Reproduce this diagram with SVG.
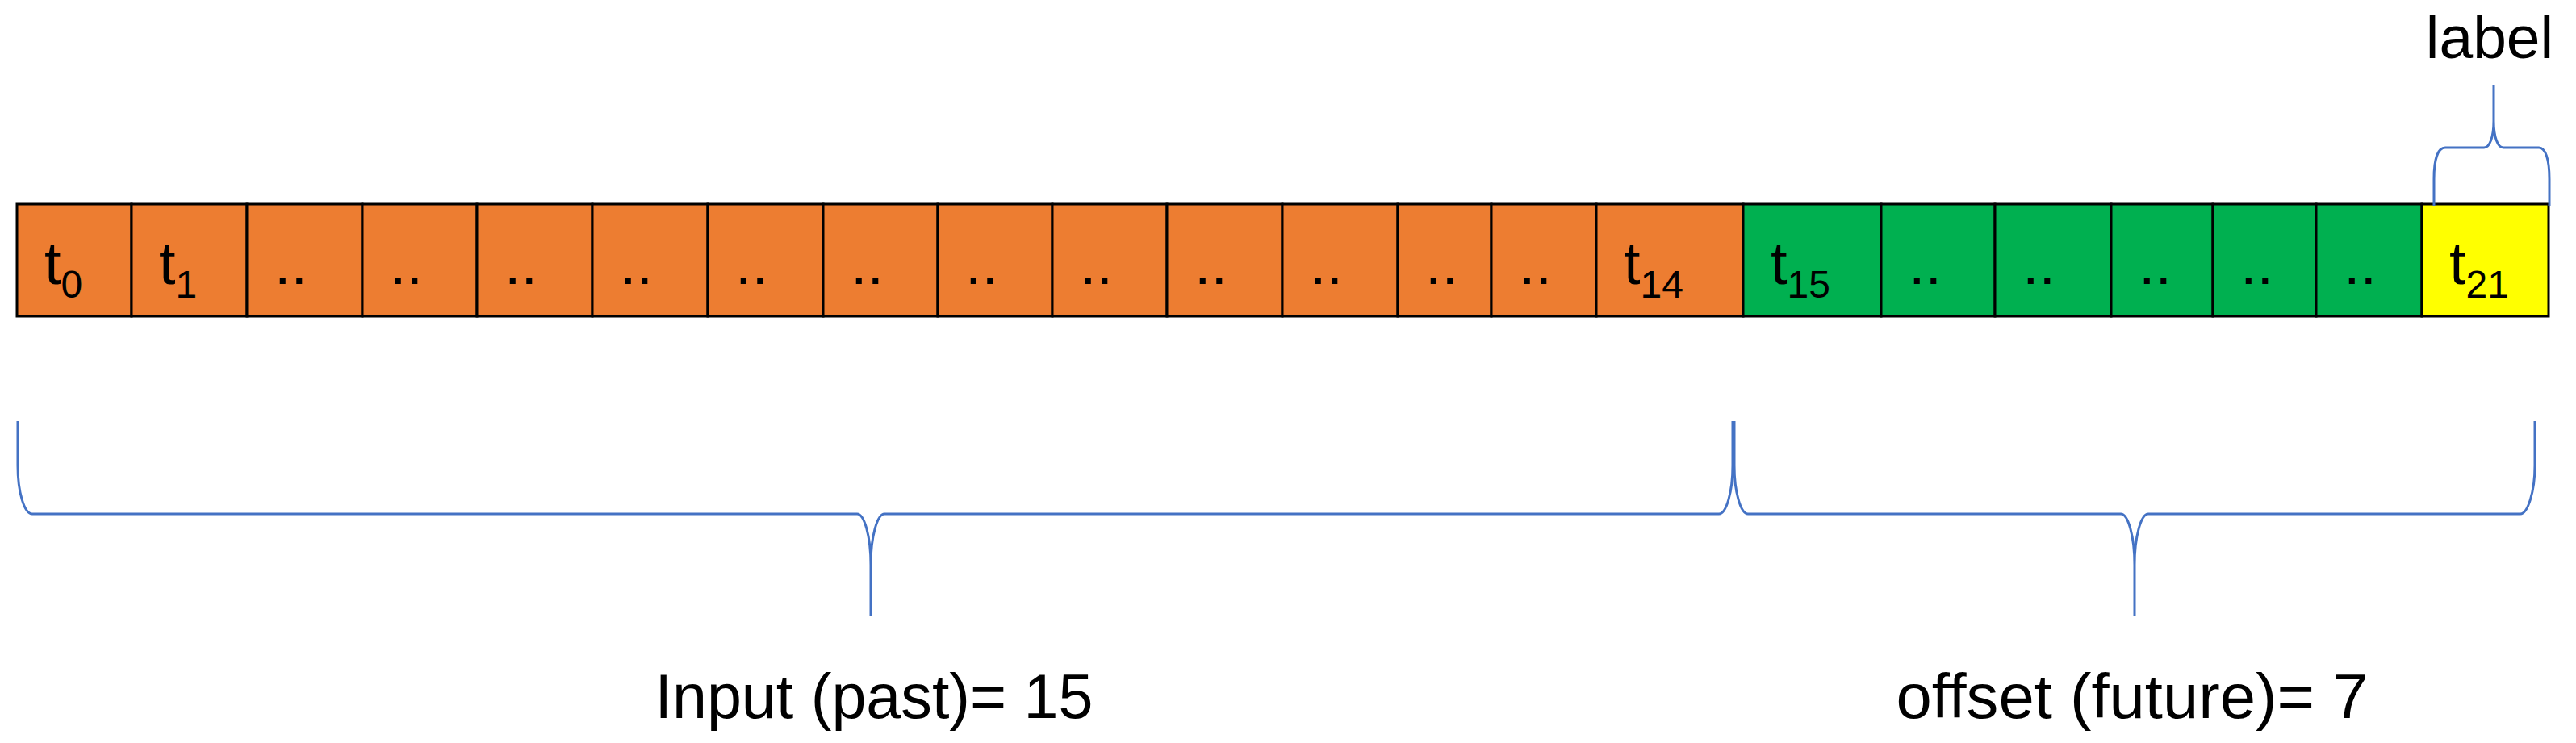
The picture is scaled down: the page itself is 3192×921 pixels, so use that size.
<svg xmlns="http://www.w3.org/2000/svg" width="3192" height="921" viewBox="0 0 3192 921">
<style>
.cell{stroke:#000;stroke-width:3}
.o{fill:#ED7D31}
.g{fill:#00B050}
.y{fill:#FFFF00}
.t{font-family:"Liberation Sans",Arial,sans-serif;font-size:74px;fill:#000}
.s{font-size:48px}
.lbl{font-family:"Liberation Sans",Arial,sans-serif;font-size:77px;fill:#000;text-anchor:middle}
.brace{fill:none;stroke:#4472C4;stroke-width:3;stroke-linejoin:round}
</style>
<rect width="3192" height="921" fill="#fff"/>
<g id="cells">
<g id="c0"><rect class="cell o" x="21" y="253" width="142" height="139"/><text class="t" x="55" y="352">t<tspan class="s" dy="17">0</tspan></text></g>
<g id="c1"><rect class="cell o" x="163" y="253" width="143" height="139"/><text class="t" x="197" y="352">t<tspan class="s" dy="17">1</tspan></text></g>
<g id="c2"><rect class="cell o" x="306" y="253" width="143" height="139"/><text class="t" x="340" y="352">..</text></g>
<g id="c3"><rect class="cell o" x="449" y="253" width="142" height="139"/><text class="t" x="483" y="352">..</text></g>
<g id="c4"><rect class="cell o" x="591" y="253" width="143" height="139"/><text class="t" x="625" y="352">..</text></g>
<g id="c5"><rect class="cell o" x="734" y="253" width="143" height="139"/><text class="t" x="768" y="352">..</text></g>
<g id="c6"><rect class="cell o" x="877" y="253" width="143" height="139"/><text class="t" x="911" y="352">..</text></g>
<g id="c7"><rect class="cell o" x="1020" y="253" width="142" height="139"/><text class="t" x="1054" y="352">..</text></g>
<g id="c8"><rect class="cell o" x="1162" y="253" width="142" height="139"/><text class="t" x="1196" y="352">..</text></g>
<g id="c9"><rect class="cell o" x="1304" y="253" width="142" height="139"/><text class="t" x="1338" y="352">..</text></g>
<g id="c10"><rect class="cell o" x="1446" y="253" width="143" height="139"/><text class="t" x="1480" y="352">..</text></g>
<g id="c11"><rect class="cell o" x="1589" y="253" width="143" height="139"/><text class="t" x="1623" y="352">..</text></g>
<g id="c12"><rect class="cell o" x="1732" y="253" width="116" height="139"/><text class="t" x="1766" y="352">..</text></g>
<g id="c13"><rect class="cell o" x="1848" y="253" width="130" height="139"/><text class="t" x="1882" y="352">..</text></g>
<g id="c14"><rect class="cell o" x="1978" y="253" width="182" height="139"/><text class="t" x="2012" y="352">t<tspan class="s" dy="17">14</tspan></text></g>
<g id="c15"><rect class="cell g" x="2160" y="253" width="171" height="139"/><text class="t" x="2194" y="352">t<tspan class="s" dy="17">15</tspan></text></g>
<g id="c16"><rect class="cell g" x="2331" y="253" width="141" height="139"/><text class="t" x="2365" y="352">..</text></g>
<g id="c17"><rect class="cell g" x="2472" y="253" width="144" height="139"/><text class="t" x="2506" y="352">..</text></g>
<g id="c18"><rect class="cell g" x="2616" y="253" width="126" height="139"/><text class="t" x="2650" y="352">..</text></g>
<g id="c19"><rect class="cell g" x="2742" y="253" width="128" height="139"/><text class="t" x="2776" y="352">..</text></g>
<g id="c20"><rect class="cell g" x="2870" y="253" width="131" height="139"/><text class="t" x="2904" y="352">..</text></g>
<g id="c21"><rect class="cell y" x="3001" y="253" width="157" height="139"/><text class="t" x="3035" y="352">t<tspan class="s" dy="17">21</tspan></text></g>
</g>
<g id="connectors">
<path id="brace-input" class="brace" d="M22,522 L22,577 C22,610 30,637 40,637 L1062,637 C1071,637 1079,665 1079,700 L1079,763 M1079,700 C1079,665 1087,637 1096,637 L2130,637 C2139,637 2147,610 2147,577 L2147,522"/>
<path id="brace-offset" class="brace" d="M2149,522 L2149,577 C2149,610 2157,637 2166,637 L2628,637 C2637,637 2645,665 2645,700 L2645,763 M2645,700 C2645,665 2653,637 2662,637 L3123,637 C3132,637 3141,610 3141,577 L3141,522"/>
<path id="brace-label" class="brace" d="M3016,255 L3016,222 C3016,197 3021,183 3030,183 L3078,183 C3085,183 3090,170 3090,150 L3090,105 M3090,150 C3090,170 3095,183 3102,183 L3146,183 C3154,183 3159,197 3159,222 L3159,255"/>
</g>
<g id="labels">
<text id="label-top" class="lbl" x="3085" y="72" style="font-size:75px">label</text>
<text id="label-input" class="lbl" x="1083" y="890" textLength="543" lengthAdjust="spacingAndGlyphs">Input (past)= 15</text>
<text id="label-offset" class="lbl" x="2642" y="890" textLength="585" lengthAdjust="spacingAndGlyphs">offset (future)= 7</text>
</g>
</svg>
